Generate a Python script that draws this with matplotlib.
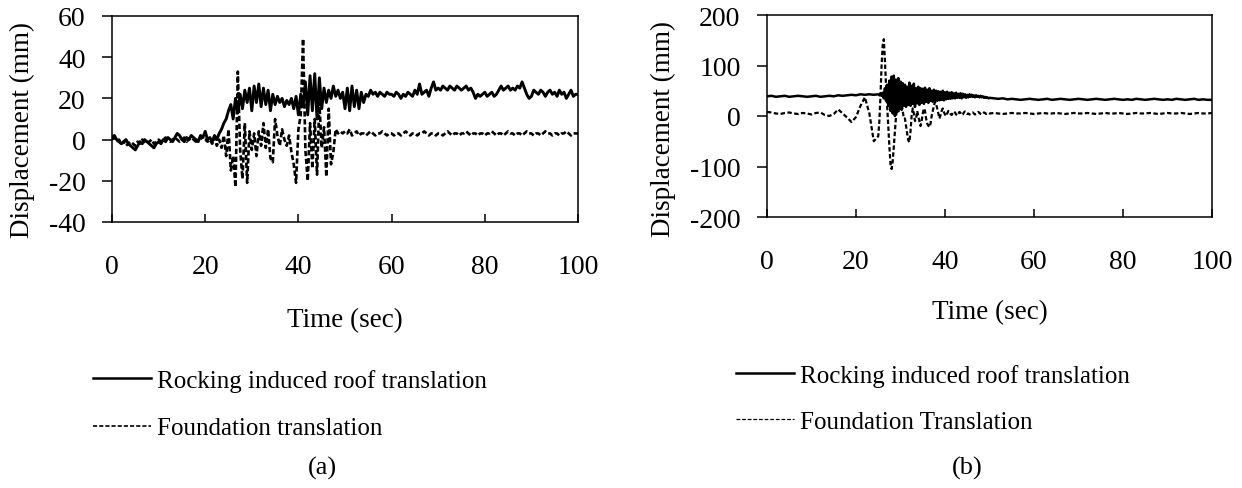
import numpy as np
import matplotlib
matplotlib.use("Agg")
import matplotlib.pyplot as plt
from matplotlib.lines import Line2D

plt.rcParams['font.family'] = ['Liberation Serif', 'DejaVu Serif']
plt.rcParams['font.size'] = 18
plt.rcParams['axes.unicode_minus'] = False

# ---------------- Panel (a) data (time step 0.5 s) ----------------
time_a = np.arange(0, 100.01, 0.5)
roof_a = [
    1, 2, 0, -1, -2, -1, 0, -2, -3, -4, -5, -3, -1, -2, 0, -1, -2, -3, -4, -2,
    -1, -2, 0, -1, 1, 0, -1, 1, 3, 2, 0, -1, 1, 0, 2, 1, 0, -1, 2, 1,
    4, 0, 1, -1, 2, 0, 3, 5, 8, 10, 14, 17, 10, 20, 13, 22, 15, 24, 18, 25,
    14, 26, 18, 27, 16, 25, 17, 24, 14, 22, 17, 21, 18, 20, 16, 19, 17, 20, 15, 21,
    12, 22, 16, 28, 12, 31, 14, 32, 10, 30, 15, 25, 18, 24, 20, 26, 21, 24, 20, 23,
    15, 25, 14, 26, 16, 24, 15, 23, 18, 22, 21, 24, 22, 23, 21, 23, 22, 21, 23, 22,
    22, 21, 23, 22, 20, 22, 21, 23, 22, 21, 24, 22, 27, 22, 23, 24, 21, 25, 28, 24,
    25, 24, 26, 25, 24, 26, 25, 24, 26, 25, 24, 25, 26, 24, 25, 23, 20, 22, 21, 22,
    23, 21, 22, 23, 21, 22, 24, 26, 24, 25, 26, 24, 25, 24, 26, 25, 28, 25, 22, 20,
    21, 24, 23, 22, 24, 23, 21, 23, 24, 22, 23, 21, 24, 22, 23, 20, 22, 24, 21, 22,
    22,
]
foundation_a = [
    0, 1, -1, 0, -2, -1, -3, -2, -1, -2, -3, -1, -2, 0, -1, -2, -1, 0, -2, -1,
    0, -1, 0, 1, 0, -1, 0, 1, 0, -1, 0, 1, -1, 0, 1, 0, -1, 0, 1, 0,
    0, -1, 0, -2, 1, -3, 0, -4, 2, -8, 5, -15, -8, -23, 33, -5, -19, 8, -21, 4,
    -5, 3, -8, 4, -3, 8, -4, 5, -9, -11, 10, 2, -3, 5, 0, -3, 2, -6, -12, -21,
    5, 12, 49, -5, -20, 8, -14, 10, -17, 18, -4, 6, -18, 15, -12, -6, 5, 3, 4, 3,
    4, 3, 5, 2, 3, 4, 2, 3, 3, 2, 3, 4, 3, 2, 3, 3, 4, 3, 2, 3,
    3, 2, 3, 3, 2, 3, 4, 3, 2, 3, 3, 2, 3, 3, 4, 3, 2, 3, 3, 2,
    3, 3, 2, 3, 4, 3, 2, 3, 3, 2, 3, 3, 4, 3, 2, 3, 3, 2, 3, 3,
    2, 3, 3, 4, 3, 2, 3, 3, 2, 3, 4, 3, 3, 2, 3, 3, 2, 3, 4, 3,
    3, 2, 3, 3, 2, 3, 4, 3, 3, 2, 3, 3, 2, 3, 3, 4, 3, 2, 3, 3,
    3,
]

# ---------------- Panel (b) data (variable time step) ----------------
time_b = np.concatenate([np.arange(0, 25, 1.0),
                         np.arange(25, 50, 0.25),
                         np.arange(50, 100.5, 1.0)])
roof_b = [
    39, 40, 38, 39, 40, 38, 39, 40, 39, 38,
    39, 40, 38, 39, 40, 39, 41, 40, 41, 42,
    41, 43, 42, 43, 42,
    43, 41, 44, 40,
    46, 35, 55, 30,
    62, 20, 70, 10,
    78, 5, 80, 0,
    72, 10, 75, 15,
    68, 12, 65, 20,
    62, 18, 58, 22,
    66, 20, 60, 24,
    64, 18, 55, 25,
    58, 22, 55, 26,
    54, 24, 56, 28,
    52, 26, 55, 30,
    50, 28, 52, 30,
    50, 30, 49, 31,
    48, 32, 50, 31,
    47, 33, 48, 34,
    46, 34, 47, 35,
    45, 35, 46, 36,
    44, 36, 45, 35,
    44, 37, 43, 36,
    42, 37, 43, 38,
    42, 38, 41, 37,
    41, 38, 40, 37,
    40, 37, 39, 36,
    38, 36, 37, 35,
    36, 35, 34, 35, 33, 34, 33, 32, 33, 34,
    33, 32, 33, 34, 32, 33, 34, 33, 32, 33,
    34, 33, 32, 33, 34, 33, 32, 33, 34, 33,
    32, 33, 32, 34, 33, 32, 33, 34, 33, 32,
    33, 32, 34, 33, 32, 33, 34, 32, 33, 32,
    32,
]
foundation_b = [
    8, 7, 5, 4, 6, 7, 5, 4, 6, 5,
    3, 6, 7, 2, 0, 4, 13, 5, -3, -12,
    -2, 20, 37, 5, -50,
    -40, -10, 40, 100,
    140, 152, 110, 60,
    20, -20, -60, -95,
    -105, -90, -60, -30,
    0, 15, 5, 20,
    35, 25, 10, -5,
    -5, -20, -35, -48,
    -52, -30, 0, 15,
    5, -10, -5, 10,
    0, -10, -20, -10,
    5, 15, 10, -5,
    -15, -19, -22, -15,
    0, 10, 20, 28,
    24, 15, 5, -5,
    2, 10, 15, 8,
    3, 0, 5, 10,
    8, 4, 2, 6,
    9, 7, 3, 1,
    4, 8, 6, 2,
    3, 7, 9, 6,
    4, 5, 3, 4,
    6, 7, 5, 3,
    4, 6, 8, 6,
    4, 3, 5, 7,
    6, 4, 5, 6,
    5, 6, 5, 4, 5, 6, 5, 5, 6, 5,
    4, 5, 6, 5, 5, 6, 5, 4, 5, 6,
    5, 5, 6, 5, 4, 5, 6, 5, 5, 6,
    5, 4, 5, 6, 5, 5, 6, 5, 4, 5,
    6, 5, 5, 6, 5, 4, 5, 6, 5, 5,
    6,
]

labels_a = ["Rocking induced roof translation", "Foundation translation"]
labels_b = ["Rocking induced roof translation", "Foundation Translation"]
xticks = [0, 20, 40, 60, 80, 100]
yticks_a = [-40, -20, 0, 20, 40, 60]
yticks_b = [-200, -100, 0, 100, 200]

W, H = 1242, 489
fig = plt.figure(figsize=(W / 100, H / 100), dpi=100)

def px_axes(x0, x1, y0, y1):
    return fig.add_axes([x0 / W, 1 - y1 / H, (x1 - x0) / W, (y1 - y0) / H])

ax_a = px_axes(112, 578, 17, 223)
ax_b = px_axes(767, 1212, 16, 218)

def style(ax, yticks, ylim, xlpad, ylpad, ylab_y):
    ax.set_xlim(0, 100)
    ax.set_ylim(*ylim)
    ax.set_xticks(xticks)
    ax.set_yticks(yticks)
    for s in ax.spines.values():
        s.set_linewidth(1.1)
        s.set_color('black')
    ax.tick_params(axis='x', direction='in', length=6, width=1.1, pad=23,
                   labelsize=20)
    ax.tick_params(axis='y', direction='out', length=7, width=1.1, pad=12,
                   labelsize=20)
    ax.set_xlabel("Time (sec)", labelpad=xlpad, fontsize=19.5)
    ax.set_ylabel("Displacement (mm)", labelpad=ylpad, fontsize=19.5)
    ax.yaxis.label.set_y(ylab_y)

ax_a.plot(time_a, roof_a, color='black', lw=2.1)
ax_a.plot(time_a, foundation_a, color='black', lw=1.9, dashes=(2.0, 1.0))
style(ax_a, yticks_a, (-40, 60), 20, 10, 0.45)

ax_b.plot(time_b, roof_b, color='black', lw=1.8)
ax_b.plot(time_b, foundation_b, color='black', lw=1.6, dashes=(2.0, 1.1))
style(ax_b, yticks_b, (-200, 200), 18, 10, 0.44)

h_solid = Line2D([], [], color='black', lw=1.8)
h_dash_a = Line2D([], [], color='black', lw=1.2, dashes=(2.5, 1.2))
h_dash_b = Line2D([], [], color='black', lw=0.9, dashes=(3, 1.5))

fig.legend([h_solid, h_dash_a], labels_a, loc='upper left',
           bbox_to_anchor=(93 / W, 1 - 370 / H), bbox_transform=fig.transFigure,
           frameon=False, borderpad=0, borderaxespad=0, handlelength=2.3,
           handletextpad=0.25, labelspacing=1.0)
fig.legend([h_solid, h_dash_b], labels_b, loc='upper left',
           bbox_to_anchor=(736 / W, 1 - 365 / H), bbox_transform=fig.transFigure,
           frameon=False, borderpad=0, borderaxespad=0, handlelength=2.3,
           handletextpad=0.25, labelspacing=0.95)

fig.text(322 / W, 1 - 468 / H, "(a)", ha='center', va='center', fontsize=19)
fig.text(967 / W, 1 - 468 / H, "(b)", ha='center', va='center', fontsize=19)

fig.savefig("out.png", dpi=100)
